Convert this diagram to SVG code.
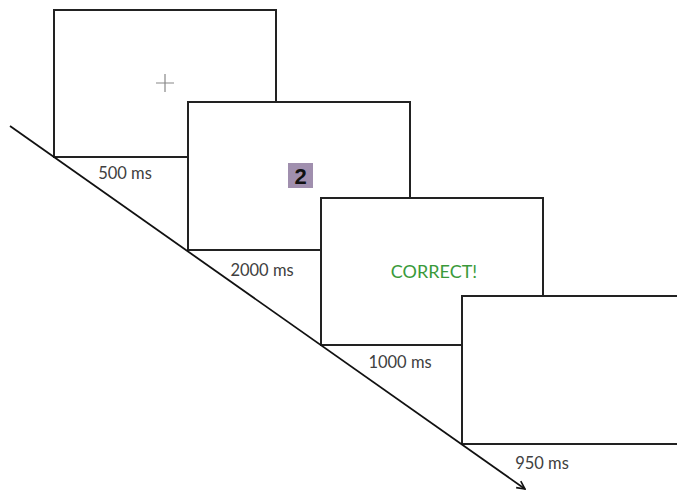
<svg xmlns="http://www.w3.org/2000/svg" width="677" height="492" viewBox="0 0 677 492">
<style>
.scr{fill:#fff;stroke:#222;stroke-width:2}
.lbl{font-family:Lato,"Open Sans",sans-serif;font-size:16.5px;fill:#404040;text-anchor:middle}
</style>
<defs>
<marker id="arr" viewBox="0 0 10 10" refX="9" refY="5" markerWidth="10" markerHeight="10" markerUnits="userSpaceOnUse" orient="auto">
<path d="M1,1 L9,5 L1,9" fill="none" stroke="#111" stroke-width="1.6"/>
</marker>
</defs>
<rect width="677" height="492" fill="#fff"/>
<g id="screen1">
<rect class="scr" x="54" y="10" width="222" height="147"/>
<path d="M156,83 H174 M165,74 V92" stroke="#888" stroke-width="1.2"/>
</g>
<g id="screen2">
<rect class="scr" x="188" y="102" width="222" height="148"/>
<rect x="288" y="163" width="25" height="25" fill="#a08fae"/>
<text x="300.5" y="184" font-family="Liberation Sans,Arial,sans-serif" font-weight="bold" font-size="22" text-anchor="middle" fill="#111">2</text>
</g>
<g id="screen3">
<rect class="scr" x="321" y="198" width="222" height="147"/>
<text x="434" y="278" font-family="Lato,'Open Sans',sans-serif" font-size="18" text-anchor="middle" fill="#3a9a3a">CORRECT!</text>
</g>
<g id="screen4">
<rect class="scr" x="462" y="296" width="222" height="148"/>
</g>
<g id="connectors">
<line x1="10" y1="126" x2="525" y2="489" stroke="#111" stroke-width="1.8" marker-end="url(#arr)"/>
</g>
<g id="labels">
<text class="lbl" x="125" y="179">500 ms</text>
<text class="lbl" x="262" y="276">2000 ms</text>
<text class="lbl" x="400" y="368">1000 ms</text>
<text class="lbl" x="542" y="469">950 ms</text>
</g>
</svg>
